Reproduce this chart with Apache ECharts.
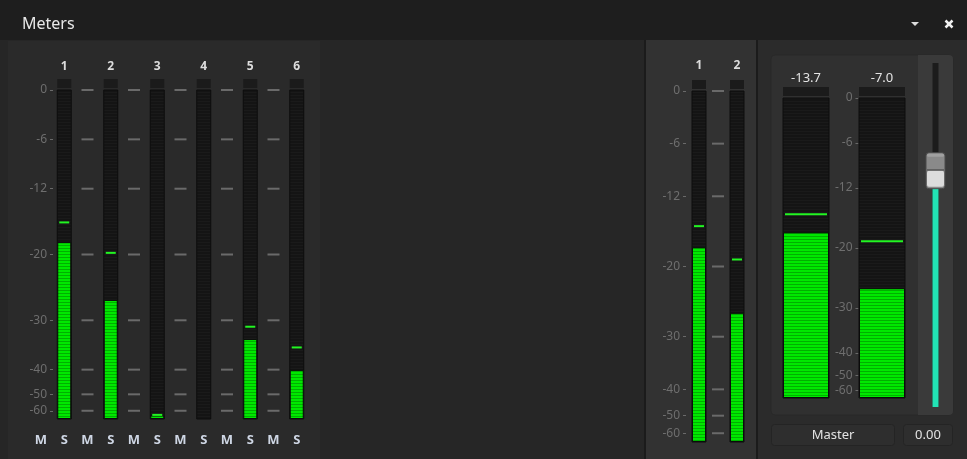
<!DOCTYPE html>
<html>
<head>
<meta charset="utf-8">
<script src="https://cdn.jsdelivr.net/npm/echarts@6/dist/echarts.min.js"></script>
<style>
html, body { margin: 0; padding: 0; background: #262626; }
#chart { width: 967px; height: 459px; }
</style>
</head>
<body>
<div id="chart"></div>
<script>
// channel strip meters (dBFS)
var channelNames = ['1', '2', '3', '4', '5', '6'];
var channelLevels = [-18.5, -26.9, -65.6, null, -33.8, -40.1];
var channelPeaks = [-16.1, -19.8, -65.0, null, -31.3, -35.5];
var muteSoloLabels = ['M', 'S'];

// bus meters
var busNames = ['1', '2'];
var busLevels = [-17.8, -26.6];
var busPeaks = [-15.4, -19.2];

// master meters
var masterReadouts = ['-13.7', '-7.0'];
var masterLevels = [-17.9, -26.7];
var masterPeaks = [-15.5, -19.1];

var meterTicks = [0, -6, -12, -20, -30, -40, -50, -60];
var faderLevel = [0.687];
var faderText = '0.00';

// IEC 60268-18 meter deflection, dB -> 0..100
function iec(db) {
    if (db == null) return null;
    if (db < -70) return 0;
    if (db < -60) return (db + 70) * 0.25;
    if (db < -50) return (db + 60) * 0.5 + 2.5;
    if (db < -40) return (db + 50) * 0.75 + 7.5;
    if (db < -30) return (db + 40) * 1.5 + 15;
    if (db < -20) return (db + 30) * 2 + 30;
    return Math.min(100, (db + 20) * 2.5 + 50);
}

var tickPos = meterTicks.map(iec);
function tickText(v) {
    var best = 0;
    for (var i = 0; i < tickPos.length; i++) {
        if (Math.abs(tickPos[i] - v) < Math.abs(tickPos[best] - v)) best = i;
    }
    return String(meterTicks[best]);
}

function stripes(a, b) {
    var c = document.createElement('canvas');
    c.width = 4; c.height = 3;
    var g = c.getContext('2d');
    g.fillStyle = a; g.fillRect(0, 0, 4, 3);
    g.fillStyle = b; g.fillRect(0, 2, 4, 1);
    return { image: c, repeat: 'repeat' };
}
var greenFill = stripes('#00e800', '#00b000');
var trackFill = stripes('#141414', '#1a1a1a');

var FONT = 'Noto Sans';

function valueAxis(gi, offset) {
    return {
        type: 'value', gridIndex: gi, min: 0, max: 100, offset: offset,
        axisLine: { show: false },
        splitLine: { show: false },
        axisTick: { show: true, length: 3, customValues: tickPos, lineStyle: { color: '#6a6a6a' } },
        axisLabel: {
            show: true, customValues: tickPos, margin: 6, color: '#6e6e6e',
            fontSize: 12, fontFamily: FONT, formatter: tickText
        }
    };
}

function topAxis(gi, names, margin, size, color, bold) {
    return {
        type: 'category', gridIndex: gi, position: 'top', data: names,
        axisLine: { show: false }, axisTick: { show: false },
        axisLabel: { margin: margin, color: color, fontSize: size, fontFamily: FONT, fontWeight: bold ? 'bold' : 'normal' }
    };
}

// bars + peak hold + clip boxes + scale dashes for one meter group
function meterSeries(xi, yi, levels, peaks, w, withDashes) {
    var out = [];
    out.push({
        type: 'bar', xAxisIndex: xi, yAxisIndex: yi, barWidth: w,
        data: levels.map(iec),
        itemStyle: { color: greenFill, borderColor: '#0b0b0b', borderWidth: 1 },
        showBackground: true,
        backgroundStyle: { color: trackFill, borderColor: '#0d0d0d', borderWidth: 1 },
        animation: false, silent: true
    });
    var peakData = [];
    peaks.forEach(function (p, i) { if (p != null) peakData.push([i, iec(p)]); });
    out.push({
        type: 'custom', xAxisIndex: xi, yAxisIndex: yi, z: 5, silent: true, animation: false,
        data: peakData,
        renderItem: function (params, api) {
            var p = api.coord([api.value(0), api.value(1)]);
            return { type: 'rect', shape: { x: p[0] - w / 2 + 2, y: p[1] - 1, width: w - 4, height: 2 },
                style: { fill: '#22f522' } };
        }
    });
    out.push({
        type: 'custom', xAxisIndex: xi, yAxisIndex: yi, silent: true, animation: false,
        data: levels.map(function (v, i) { return [i, 100]; }),
        renderItem: function (params, api) {
            var p = api.coord([api.value(0), 100]);
            return { type: 'rect', shape: { x: p[0] - w / 2, y: p[1] - 11, width: w, height: 9 },
                style: { fill: '#1b1b1b' } };
        }
    });
    if (withDashes) {
        var dashData = [];
        for (var g = 0; g < levels.length - 1; g++) {
            tickPos.forEach(function (t) { dashData.push([g, t]); });
        }
        out.push({
            type: 'custom', xAxisIndex: xi, yAxisIndex: yi, silent: true, animation: false,
            data: dashData,
            renderItem: function (params, api) {
                var a = api.coord([api.value(0), api.value(1)]);
                var b = api.coord([api.value(0) + 1, api.value(1)]);
                var x = (a[0] + b[0]) / 2;
                return { type: 'rect', shape: { x: x - 6, y: a[1] - 1, width: 12, height: 2 },
                    style: { fill: '#6a6a6a' } };
            }
        });
    }
    return out;
}

var chart = echarts.init(document.getElementById('chart'), null, { renderer: 'canvas' });

var series = []
    .concat(meterSeries(0, 0, channelLevels, channelPeaks, 14, true))
    .concat(meterSeries(2, 1, busLevels, busPeaks, 14, true))
    .concat(meterSeries(3, 2, masterLevels, masterPeaks, 46, false));

// fader
series.push({
    type: 'bar', xAxisIndex: 4, yAxisIndex: 3, barWidth: 6, data: faderLevel,
    itemStyle: { color: '#22e3b5' }, showBackground: true,
    backgroundStyle: { color: '#1c1c1c' }, animation: false, silent: true
});
series.push({
    type: 'custom', xAxisIndex: 4, yAxisIndex: 3, z: 6, silent: true, animation: false,
    data: faderLevel.map(function (v) { return [0, v]; }),
    renderItem: function (params, api) {
        var p = api.coord([0, api.value(1)]);
        var x = p[0] - 9.5, y = p[1] - 18;
        return {
            type: 'group',
            children: [
                { type: 'rect', shape: { x: x, y: y, width: 19, height: 36, r: 3 },
                    style: { fill: '#8a8a8a', stroke: '#4a4a4a', lineWidth: 1 } },
                { type: 'rect', shape: { x: x + 1, y: y + 18, width: 17, height: 16, r: 2 },
                    style: { fill: '#dcdcdc' } },
                { type: 'rect', shape: { x: x + 1, y: y + 16.5, width: 17, height: 1.5 },
                    style: { fill: '#5a5a5a' } },
                { type: 'rect', shape: { x: x + 1, y: y + 1, width: 17, height: 3, r: 2 },
                    style: { fill: '#a0a0a0' } }
            ]
        };
    }
});

var option = {
    backgroundColor: '#262626',
    animation: false,
    grid: [
        { left: 41, top: 90, width: 279, height: 329, outerBoundsMode: 'none' },
        { left: 680, top: 91, width: 76, height: 351, outerBoundsMode: 'none' },
        { left: 768, top: 98, width: 152, height: 300, outerBoundsMode: 'none' },
        { left: 932, top: 63, width: 7, height: 344, outerBoundsMode: 'none' }
    ],
    xAxis: [
        topAxis(0, channelNames, 17, 12, '#dcdcdc', true),
        {
            type: 'value', gridIndex: 0, position: 'bottom', min: 0, max: 6, interval: 0.5,
            axisLine: { show: false }, axisTick: { show: false }, splitLine: { show: false },
            axisLabel: {
                margin: 15, color: '#ced6e4', fontSize: 13, fontWeight: 'bold', fontFamily: FONT,
                hideOverlap: false,
                formatter: function (v) {
                    if (v >= 6) return '';
                    return muteSoloLabels[Math.round(v * 2) % 2];
                }
            }
        },
        topAxis(1, busNames, 19, 12, '#dcdcdc', true),
        topAxis(2, masterReadouts, 13, 13, '#e4e4e4', false),
        { type: 'category', gridIndex: 3, data: ['F'], show: false }
    ],
    yAxis: [
        valueAxis(0, -12),
        valueAxis(1, -6),
        valueAxis(2, -90.5),
        { type: 'value', gridIndex: 3, min: 0, max: 1, show: false }
    ],
    graphic: [
        { type: 'rect', z: -10, shape: { x: 0, y: 0, width: 967, height: 40 }, style: { fill: '#1e1e1e' } },
        { type: 'text', z: 10, x: 22, y: 24, style: { text: 'Meters', fill: '#e8e8e8', fontSize: 16, fontFamily: FONT, verticalAlign: 'middle' } },
        { type: 'polygon', z: 10, shape: { points: [[911, 22], [919, 22], [915, 26]] }, style: { fill: '#dddddd' } },
        { type: 'line', z: 10, shape: { x1: 945.5, y1: 20.5, x2: 952.5, y2: 27.5 }, style: { stroke: '#f0f0f0', lineWidth: 2.5 } },
        { type: 'line', z: 10, shape: { x1: 952.5, y1: 20.5, x2: 945.5, y2: 27.5 }, style: { stroke: '#f0f0f0', lineWidth: 2.5 } },
        { type: 'rect', z: -10, shape: { x: 8, y: 41, width: 312, height: 418 }, style: { fill: '#2a2a2a' } },
        { type: 'rect', z: -10, shape: { x: 644, y: 40, width: 114, height: 419 }, style: { fill: '#1b1b1b' } },
        { type: 'rect', z: -10, shape: { x: 646, y: 40, width: 110, height: 419 }, style: { fill: '#323232' } },
        { type: 'rect', z: -10, shape: { x: 758, y: 40, width: 209, height: 419 }, style: { fill: '#2b2b2b' } },
        { type: 'rect', z: -10, shape: { x: 771, y: 55, width: 182, height: 360, r: 4 }, style: { fill: '#303030', stroke: '#292929', lineWidth: 1 } },
        { type: 'rect', z: -10, shape: { x: 918, y: 55, width: 35, height: 360, r: [0, 4, 4, 0] }, style: { fill: '#3a3a3a' } },
        { type: 'rect', z: 10, shape: { x: 771.5, y: 424.5, width: 123, height: 21, r: 3 }, style: { fill: '#2e2e2e', stroke: '#242424', lineWidth: 1 } },
        { type: 'text', z: 11, x: 833, y: 435, style: { text: 'Master', fill: '#e2e2e2', fontSize: 13, fontFamily: FONT, align: 'center', verticalAlign: 'middle' } },
        { type: 'rect', z: 10, shape: { x: 903.5, y: 424.5, width: 49, height: 21, r: 3 }, style: { fill: '#2e2e2e', stroke: '#242424', lineWidth: 1 } },
        { type: 'text', z: 11, x: 928, y: 435, style: { text: faderText, fill: '#e2e2e2', fontSize: 13, fontFamily: FONT, align: 'center', verticalAlign: 'middle' } }
    ],
    series: series
};

chart.setOption(option);
</script>
</body>
</html>
